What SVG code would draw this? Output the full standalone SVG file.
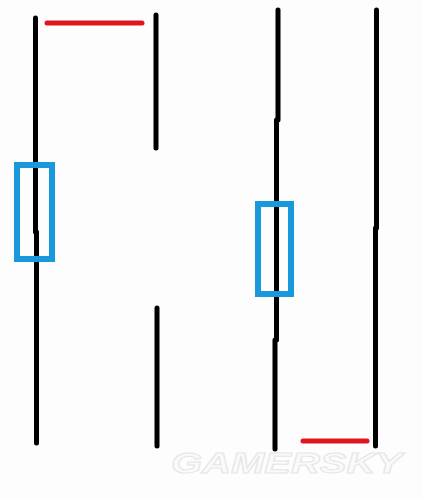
<svg xmlns="http://www.w3.org/2000/svg" width="422" height="500" viewBox="0 0 422 500">
<style>
.k{stroke:#000;stroke-width:5;stroke-linecap:round;fill:none}
.r{stroke:#e0161f;stroke-width:5;stroke-linecap:round;fill:none}
.b{stroke:#1a98dc;stroke-width:6;fill:none}
.w{font-family:"Liberation Sans",Arial,sans-serif;font-weight:bold;font-style:italic;font-size:29px;fill:#fafafa;stroke:#e6e6e6;stroke-width:1}
</style>
<rect width="422" height="500" fill="#fdfdfd"/>
<g id="connectors">
<path id="line1" class="k" d="M35.5 18 V232 M36.5 232 V443"/>
<path id="line2a" class="k" d="M156 15 V148"/>
<path id="line2b" class="k" d="M157 308 V446"/>
<path id="line3" class="k" d="M278 10 V120 M276.5 120 V340 M275 340 V449"/>
<path id="line4" class="k" d="M376.5 10 V228 M375.5 228 V446"/>
<path id="red1" class="r" d="M47 23 H142"/>
<path id="red2" class="r" d="M303 441 H367"/>
</g>
<g id="box1"><rect class="b" x="17" y="165" width="35" height="94"/></g>
<g id="box2"><rect class="b" x="258" y="204" width="33" height="90"/></g>
<text class="w" x="171" y="473" textLength="231" lengthAdjust="spacingAndGlyphs">GAMERSKY</text>
</svg>
